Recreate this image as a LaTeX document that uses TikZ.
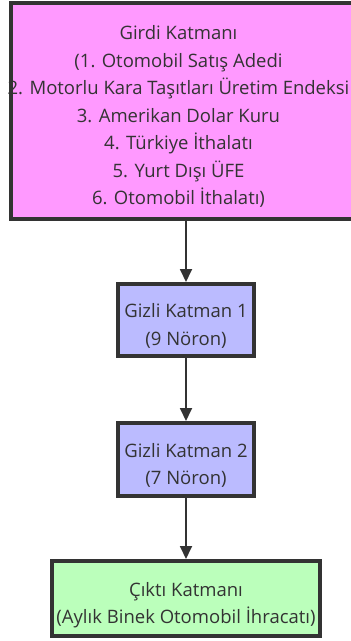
\documentclass[tikz,border=0pt]{standalone}
\usepackage{fontspec}
\setmainfont{Open Sans}
\usetikzlibrary{arrows.meta}
\definecolor{inpfill}{HTML}{FF99FF}
\definecolor{hidfill}{HTML}{BBBBFF}
\definecolor{outfill}{HTML}{BBFFBB}
\definecolor{edge}{HTML}{333333}
\newcommand{\layertext}[2][0pt]{\makebox[0pt]{\raisebox{-6pt}[\height][\depth]{\begin{tabular}{@{}c@{}}#2\end{tabular}}\hspace{#1}}}
\begin{document}
\begin{tikzpicture}[x=1pt,y=1pt,
  layerbox/.style={draw=edge, line width=4pt, text=edge, inner sep=0pt,
    font=\fontsize{18.5}{27.5}\selectfont},
  conn/.style={draw=edge, line width=1.8pt, -{Triangle[width=12pt,length=13pt]}}]
\useasboundingbox (0,0) rectangle (351,-641);
\node[layerbox, fill=inpfill, minimum width=350pt, minimum height=216pt] (inp) at (186,-110.5)
  {\layertext[15pt]{Girdi Katmanı\\(1. Otomobil Satış Adedi\\2. Motorlu Kara Taşıtları Üretim Endeksi\\3. Amerikan Dolar Kuru\\4. Türkiye İthalatı\\5. Yurt Dışı ÜFE\\6. Otomobil İthalatı)}};
\node[layerbox, fill=hidfill, minimum width=136pt, minimum height=72pt] (h1) at (186,-320)
  {\layertext{Gizli Katman 1\\(9 Nöron)}};
\node[layerbox, fill=hidfill, minimum width=136pt, minimum height=73pt] (h2) at (186,-459.5)
  {\layertext{Gizli Katman 2\\(7 Nöron)}};
\node[layerbox, fill=outfill, minimum width=268pt, minimum height=75pt] (out) at (186,-598.5)
  {\layertext{Çıktı Katmanı\\(Aylık Binek Otomobil İhracatı)}};
\draw[conn] (inp) -- (h1);
\draw[conn] (h1) -- (h2);
\draw[conn] (h2) -- (out);
\end{tikzpicture}
\end{document}
